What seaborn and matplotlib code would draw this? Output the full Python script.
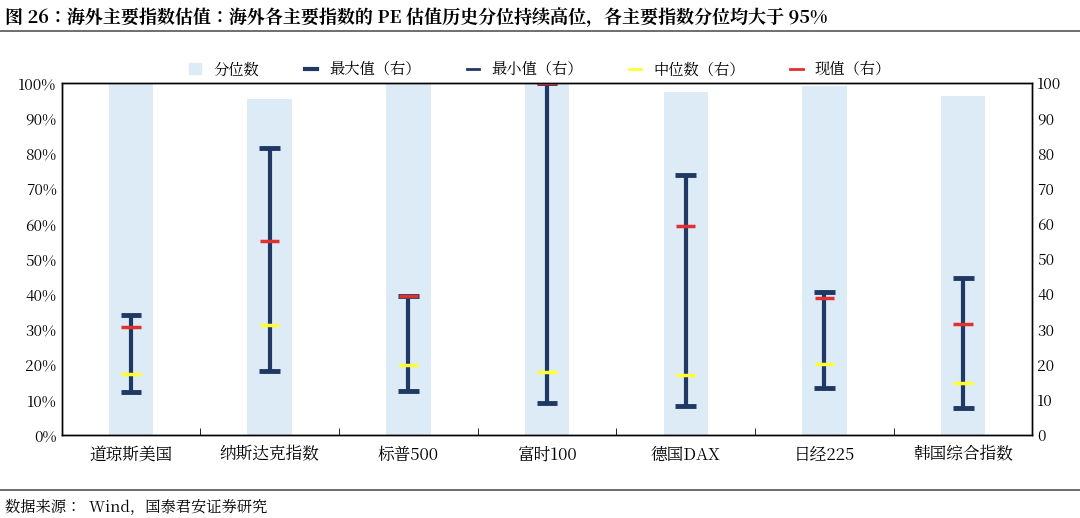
import matplotlib
matplotlib.use("Agg")
import matplotlib.pyplot as plt
from matplotlib import font_manager as fm
import seaborn as sns
import pandas as pd
from matplotlib.ticker import PercentFormatter, MultipleLocator
from matplotlib.lines import Line2D
from matplotlib.patches import Patch

cjk = [f for f in fm.fontManager.ttflist if "CJK" in f.name]
pref = [f for f in cjk if f.name.endswith("SC")] or cjk
fam = pref[0].name if pref else "Noto Sans CJK SC"
plt.rcParams["font.family"] = [fam, "DejaVu Sans"]

categories = ["道琼斯美国", "纳斯达克指数", "标普500", "富时100", "德国DAX", "日经225", "韩国综合指数"]
percentile = [100, 95.3, 100, 100, 97.5, 99.2, 96.3]
max_vals = [34.1, 81.5, 39.5, 100, 73.9, 40.6, 44.6]
min_vals = [12.2, 18.2, 12.5, 9.1, 8.3, 13.4, 7.8]
median_vals = [17.3, 31.2, 19.8, 17.9, 17.0, 20.3, 14.8]
current_vals = [30.7, 55.0, 39.5, 100, 59.5, 38.8, 31.5]

df = pd.DataFrame({"cat": categories, "pct": [p / 100 for p in percentile]})

fig = plt.figure(figsize=(10.8, 5.18), dpi=100)
ax = fig.add_axes([0.057, 0.160, 0.899, 0.680])
sns.barplot(data=df, x="cat", y="pct", color="#DDEBF7", width=0.32, ax=ax, saturation=1)
ax.set_ylim(0, 1)
ax.set_xlim(-0.5, len(categories) - 0.5)
ax.yaxis.set_major_locator(MultipleLocator(0.1))
ax.yaxis.set_major_formatter(PercentFormatter(1, decimals=0))
ax.set_xlabel("")
ax.set_ylabel("")
ax.set_xticks(range(len(categories)))
ax.set_xticklabels(categories, fontsize=12)
ax.set_xticks([i + 0.5 for i in range(len(categories) - 1)], minor=True)
ax.tick_params(axis="x", which="major", length=0, pad=8)
ax.tick_params(axis="x", which="minor", length=5, direction="in")
ax.tick_params(axis="y", labelsize=11, length=0)

ax2 = ax.twinx()
ax2.set_ylim(0, 100)
ax2.yaxis.set_major_locator(MultipleLocator(10))
ax2.tick_params(axis="y", labelsize=11, length=0)
navy = "#1F3864"
for i in range(len(categories)):
    ax2.vlines(i, min_vals[i], max_vals[i], color=navy, lw=3)
    ax2.hlines([min_vals[i], max_vals[i]], i - 0.075, i + 0.075, color=navy, lw=3.5)
    ax2.hlines(median_vals[i], i - 0.07, i + 0.07, color="#FFFF33", lw=2.5)
    ax2.hlines(current_vals[i], i - 0.07, i + 0.07, color="#E03030", lw=2.5)
for a in (ax, ax2):
    for s in a.spines.values():
        s.set_color("#000000")
        s.set_linewidth(1)

handles = [Patch(color="#DDEBF7", label="分位数"),
           Line2D([], [], color=navy, lw=3, label="最大值（右）"),
           Line2D([], [], color=navy, lw=2, label="最小值（右）"),
           Line2D([], [], color="#FFFF33", lw=2, label="中位数（右）"),
           Line2D([], [], color="#E03030", lw=2, label="现值（右）")]
fig.legend(handles=handles, loc="center", bbox_to_anchor=(0.5, 0.865), ncol=5,
           frameon=False, fontsize=11, handlelength=0.8, columnspacing=3)

fig.text(0.005, 0.965, "图 26：海外主要指数估值：海外各主要指数的 PE 估值历史分位持续高位，各主要指数分位均大于 95%",
         fontsize=13, fontweight="bold", va="center")
fig.add_artist(Line2D([0, 1], [0.94, 0.94], color="#555555", lw=1.2))
fig.add_artist(Line2D([0, 1], [0.055, 0.055], color="#555555", lw=1.2))
fig.text(0.005, 0.02, "数据来源：  Wind，国泰君安证券研究", fontsize=11, va="center")
fig.savefig("out.png", dpi=100)
